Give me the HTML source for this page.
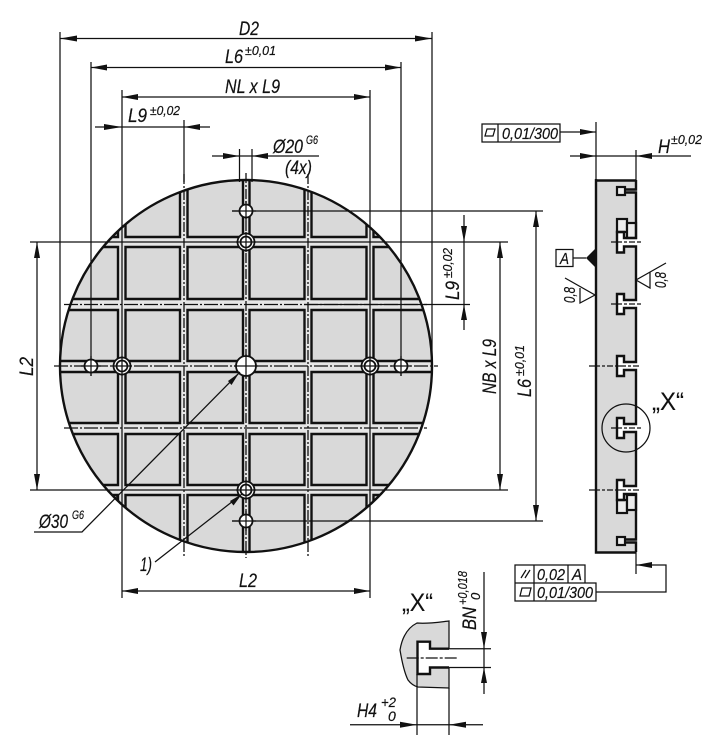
<!DOCTYPE html>
<html><head><meta charset="utf-8"><style>
html,body{margin:0;padding:0;background:#fff}
svg{display:block}
text{font-family:"Liberation Sans",sans-serif;font-style:italic;fill:#111;stroke:#111;stroke-width:.2}
.t{font-size:19.5px}.s{font-size:13px}.g{font-size:11.5px}.m{font-size:16px}
.x{font-size:25px;font-style:normal;stroke-width:.1}
.d{stroke:#111;stroke-width:1.25;fill:none}
.k{stroke:#111;stroke-width:2.4;fill:none}
.c{fill:#d9d9d9;stroke:#111;stroke-width:2.4}
.a{fill:#111;stroke:none}
.w{fill:#fff;stroke:#111;stroke-width:1.8}
.gw{fill:#ececec;stroke:#111;stroke-width:2.2}
</style></head><body>
<svg xmlns="http://www.w3.org/2000/svg" width="717" height="750" viewBox="0 0 717 750">
<defs><clipPath id="cp"><circle cx="246" cy="366" r="186"/></clipPath></defs>
<rect width="717" height="750" fill="#fff"/>

<!-- disc -->
<circle cx="246" cy="366" r="186" fill="#e6e6e6"/>
<g clip-path="url(#cp)">
<path class="c" d="M64 170H118V237H64ZM125.5 170H180V237H125.5ZM187.5 170H243V237H187.5ZM249.5 170H304.5V237H249.5ZM311.5 170H366.5V237H311.5ZM373.5 170H428V237H373.5Z
M50 247H118V299H50ZM125.5 247H180V299H125.5ZM187.5 247H243V299H187.5ZM249.5 247H304.5V299H249.5ZM311.5 247H366.5V299H311.5ZM373.5 247H440V299H373.5Z
M50 310H118V361H50ZM125.5 310H180V361H125.5ZM187.5 310H243V361H187.5ZM249.5 310H304.5V361H249.5ZM311.5 310H366.5V361H311.5ZM373.5 310H440V361H373.5Z
M50 372H118V423H50ZM125.5 372H180V423H125.5ZM187.5 372H243V423H187.5ZM249.5 372H304.5V423H249.5ZM311.5 372H366.5V423H311.5ZM373.5 372H440V423H373.5Z
M50 434H118V485H50ZM125.5 434H180V485H125.5ZM187.5 434H243V485H187.5ZM249.5 434H304.5V485H249.5ZM311.5 434H366.5V485H311.5ZM373.5 434H440V485H373.5Z
M64 495H118V565H64ZM125.5 495H180V565H125.5ZM187.5 495H243V565H187.5ZM249.5 495H304.5V565H249.5ZM311.5 495H366.5V565H311.5ZM373.5 495H428V565H373.5Z"/>
</g>
<!-- slot centre lines -->
<path d="M54 366H438M64 304.5H427M64 428H427" stroke="#111" stroke-width="1.3" fill="none" stroke-dasharray="14 2 2 2"/>
<path d="M184 174V558M246 173V558M308 174V558" stroke="#111" stroke-width="1.3" fill="none" stroke-dasharray="10 2 2 2"/>
<circle cx="246" cy="366" r="186" fill="none" stroke="#111" stroke-width="2.4"/>

<!-- dimension lines top -->
<path class="d" d="M60 32V366M432 32V366M91 62V376M401 62V376M122 90V598M370 90V598M184 120V182"/>
<path class="d" d="M60 38.5H432M91 67.5H401M122 97H370M95 127H210M212 156H319M239.5 149V182M252 149V182"/>
<path class="d" d="M232 211H543M232 521H543M30 242H508M30 490H508M304 304.5H470"/>
<path class="d" d="M37 242V490M500 242V490M536 211V521M464 215V330M122 591H370"/>
<!-- arrows -->
<polygon class="a" points="60,38.5 77,35.5 77,41.5"/><polygon class="a" points="432,38.5 415,35.5 415,41.5"/>
<polygon class="a" points="91,67.5 107,64.5 107,70.5"/><polygon class="a" points="401,67.5 385,64.5 385,70.5"/>
<polygon class="a" points="122,97 138,94 138,100"/><polygon class="a" points="370,97 354,94 354,100"/>
<polygon class="a" points="122,127 104,124 104,130"/><polygon class="a" points="184,127 200,124 200,130"/>
<polygon class="a" points="239.5,156 223,153 223,159"/><polygon class="a" points="252,156 268,153 268,159"/>
<polygon class="a" points="37,242 34,258 40,258"/><polygon class="a" points="37,490 34,474 40,474"/>
<polygon class="a" points="500,242 497,258 503,258"/><polygon class="a" points="500,490 497,474 503,474"/>
<polygon class="a" points="536,211 533,227 539,227"/><polygon class="a" points="536,521 533,505 539,505"/>
<polygon class="a" points="464,242 461,226 467,226"/><polygon class="a" points="464,304.5 461,320 467,320"/>
<polygon class="a" points="122,591 138,588 138,594"/><polygon class="a" points="370,591 354,588 354,594"/>

<!-- holes -->
<g>
<circle class="w" cx="246" cy="211" r="6.5"/><circle class="w" cx="246" cy="521" r="6.5"/>
<circle class="w" cx="91" cy="366" r="6.5"/><circle class="w" cx="401" cy="366" r="6.5"/>
<circle class="w" cx="246" cy="366" r="10"/>
<circle class="w" cx="246" cy="242" r="8.5"/><circle class="w" cx="246" cy="242" r="5.5"/>
<circle class="w" cx="246" cy="490" r="8.5"/><circle class="w" cx="246" cy="490" r="5.5"/>
<circle class="w" cx="122" cy="366" r="8.5"/><circle class="w" cx="122" cy="366" r="5.5"/>
<circle class="w" cx="370" cy="366" r="8.5"/><circle class="w" cx="370" cy="366" r="5.5"/>
</g>
<path class="d" d="M246 201V221M232 211H256M246 511V531M232 521H256M91 356V376M81 366H101M401 356V376M391 366H411M246 354V378M234 366H258M246 232V252M236 242H256M246 480V500M236 490H256M122 356V376M112 366H132M370 356V376M360 366H380"/>

<!-- leaders -->
<path class="d" d="M240 372L82 532H34M242 494L155 562"/>
<polygon class="a" points="239,373 228,381 231.5,385"/>
<polygon class="a" points="242,494 230,501 233.5,505.5"/>

<!-- side view -->
<path d="M596 180H636V552H596Z" fill="#d9d9d9" stroke="none"/>
<!-- white T interiors -->
<path fill="#fff" d="M638 238H624V232H617V252.5H624V246.5H638ZM638 300H624V294H617V314H624V308H638ZM638 362H624V356H617V376H624V370H638ZM638 424H624V418H617V438H624V432H638ZM638 486H624V480H617V500H624V494H638Z"/>
<rect class="gw" x="617" y="219" width="10" height="13"/>
<rect class="gw" x="627" y="223" width="9" height="15"/>
<rect class="gw" x="617" y="500" width="10" height="13"/>
<rect class="gw" x="627" y="495" width="9" height="15"/>
<rect class="gw" x="617" y="187" width="8" height="8"/>
<rect class="gw" x="617" y="537" width="8" height="8"/>
<path class="k" d="M596 179V552.5H636M595 180.5H636"/>
<path class="k" d="M636 180V189.5H625M625 192.5H636V238H624V232H617V252.5H624V246.5H636V300H624V294H617V314H624V308H636V362H624V356H617V376H624V370H636V424H624V418H617V438H624V432H636V486H624V480H617V500H624V494H636V539.5H625M625 542.5H636V552"/>
<path d="M611 242H641M611 304H641M589 366H641M611 428H641M589 490H641" stroke="#111" stroke-width="1.2" fill="none" stroke-dasharray="11 2 3 2 6 2"/>
<circle class="d" cx="626" cy="428" r="24"/>
<path class="d" d="M596 122V180M636 150V180M570 156H691M560 132H596"/>
<polygon class="a" points="596,132 580,129 580,135"/>
<polygon class="a" points="596,156 580,153 580,159"/><polygon class="a" points="636,156 652,153 652,159"/>
<!-- datum -->
<rect class="d" x="556" y="249.5" width="17" height="17"/>
<path class="d" d="M573 258H586"/>
<polygon class="a" points="586,258 596,248 596,268"/>
<!-- roughness -->
<path class="d" d="M565 278L595 295L580 303V288M666 263L636 280L650 288V272"/>
<!-- frames -->
<path class="d" d="M482 124H560V142H482ZM498 124V142"/>
<path class="d" d="M487 129H495L493 136H485Z"/>
<path class="d" d="M515 565H585V583H515ZM534 565V601M568 565V583M515 583H596V601H515Z"/>
<path class="d" d="M522 588H531L529 596H520Z"/>
<path class="d" d="M596 592H666V565H636M636 552V574"/>
<polygon class="a" points="636,565 652,562 652,568"/>
<path class="d" d="M521 578L526 570M525 578L530 570"/>

<!-- detail X -->
<path d="M449 621C440 622 428 624 417 623C407 628 402 638 400 650C402 662 404 672 408 680C411 684 414 686 418 687L449 688V667.5H430V674H417.5V641.7H430V648.7H449Z" fill="#d9d9d9" stroke="none"/>
<path class="d" d="M449 648.7V621C440 622 428 624 417 623C407 628 402 638 400 650C402 662 404 672 408 680C411 684 414 686 418 687L449 688V667.5"/>
<path class="k" d="M449 648.7H430V641.7H417.5V674H430V667.5H449"/>
<path class="d" d="M449 648.7H491M449 667.5H491M484 572V694M417 674V735M449 688V735M350 724.7H483"/>
<path d="M406.7 658H457" stroke="#111" stroke-width="1.2" fill="none" stroke-dasharray="12 2 3 2 12 2 3 2"/>
<polygon class="a" points="484,648.7 481,632 487,632"/><polygon class="a" points="484,667.5 481,683 487,683"/>
<polygon class="a" points="417,724.7 400,721.7 400,727.7"/><polygon class="a" points="449,724.7 466,721.7 466,727.7"/>

<!-- text -->
<text class="t" x="239" y="35" textLength="20" lengthAdjust="spacingAndGlyphs">D2</text>
<text class="t" x="225" y="63" textLength="18" lengthAdjust="spacingAndGlyphs">L6</text>
<text class="s" x="245" y="55" textLength="31" lengthAdjust="spacingAndGlyphs">±0,01</text>
<text class="t" x="225" y="93" textLength="55" lengthAdjust="spacingAndGlyphs">NL x L9</text>
<text class="t" x="128" y="122" textLength="19" lengthAdjust="spacingAndGlyphs">L9</text>
<text class="s" x="150" y="115" textLength="30" lengthAdjust="spacingAndGlyphs">±0,02</text>
<text class="t" x="273" y="153" textLength="30" lengthAdjust="spacingAndGlyphs">Ø20</text>
<text class="g" x="306" y="144" textLength="12" lengthAdjust="spacingAndGlyphs">G6</text>
<text class="t" x="285" y="174" textLength="27" lengthAdjust="spacingAndGlyphs">(4x)</text>
<text class="t" x="39" y="528" textLength="29" lengthAdjust="spacingAndGlyphs">Ø30</text>
<text class="g" x="72" y="519" textLength="12" lengthAdjust="spacingAndGlyphs">G6</text>
<text class="t" x="140" y="571" textLength="12" lengthAdjust="spacingAndGlyphs">1)</text>
<text class="t" x="239" y="587" textLength="18" lengthAdjust="spacingAndGlyphs">L2</text>
<text class="t" transform="translate(33 376) rotate(-90)" textLength="19" lengthAdjust="spacingAndGlyphs">L2</text>
<text class="t" transform="translate(496 394) rotate(-90)" textLength="55" lengthAdjust="spacingAndGlyphs">NB x L9</text>
<text class="t" transform="translate(531 397) rotate(-90)" textLength="18" lengthAdjust="spacingAndGlyphs">L6</text>
<text class="s" transform="translate(524 376) rotate(-90)" textLength="31" lengthAdjust="spacingAndGlyphs">±0,01</text>
<text class="t" transform="translate(459 300) rotate(-90)" textLength="19" lengthAdjust="spacingAndGlyphs">L9</text>
<text class="s" transform="translate(452 278) rotate(-90)" textLength="30" lengthAdjust="spacingAndGlyphs">±0,02</text>
<text class="t" x="658" y="153" textLength="12" lengthAdjust="spacingAndGlyphs">H</text>
<text class="s" x="671" y="144" textLength="31" lengthAdjust="spacingAndGlyphs">±0,02</text>
<text class="m" x="502" y="139" textLength="56" lengthAdjust="spacingAndGlyphs">0,01/300</text>
<text class="m" x="560" y="264" textLength="9" lengthAdjust="spacingAndGlyphs">A</text>
<text class="m" transform="translate(575 303) rotate(-90)" textLength="16" lengthAdjust="spacingAndGlyphs">0,8</text>
<text class="m" transform="translate(666 288) rotate(-90)" textLength="16" lengthAdjust="spacingAndGlyphs">0,8</text>
<text class="m" x="537" y="580" textLength="28" lengthAdjust="spacingAndGlyphs">0,02</text>
<text class="m" x="572" y="580" textLength="10" lengthAdjust="spacingAndGlyphs">A</text>
<text class="m" x="537" y="598" textLength="56" lengthAdjust="spacingAndGlyphs">0,01/300</text>
<text class="x" x="652" y="410" textLength="32" lengthAdjust="spacingAndGlyphs">„X“</text>
<text class="x" x="402" y="611" textLength="31" lengthAdjust="spacingAndGlyphs">„X“</text>
<text class="t" x="357" y="717" textLength="20" lengthAdjust="spacingAndGlyphs">H4</text>
<text class="s" x="381" y="707" textLength="15" lengthAdjust="spacingAndGlyphs" style="font-size:14px">+2</text>
<text class="s" x="388" y="721" style="font-size:14px">0</text>
<text class="t" transform="translate(476 630) rotate(-90)" textLength="23" lengthAdjust="spacingAndGlyphs">BN</text>
<text class="s" transform="translate(467 605) rotate(-90)" textLength="34" lengthAdjust="spacingAndGlyphs">+0,018</text>
<text class="s" transform="translate(480 600) rotate(-90)">0</text>
</svg>
</body></html>
